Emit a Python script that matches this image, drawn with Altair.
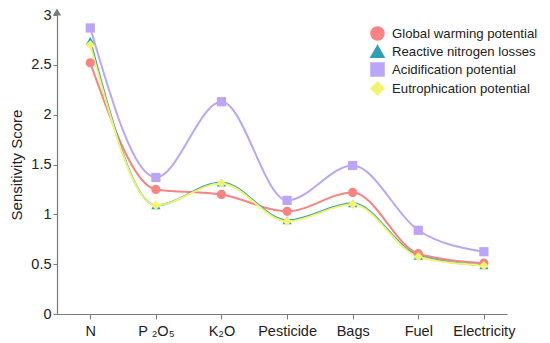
import altair as alt
import pandas as pd

categories = ["N", "P ₂O₅", "K₂O", "Pesticide", "Bags", "Fuel", "Electricity"]
series_names = ["Global warming potential", "Reactive nitrogen losses",
                "Acidification potential", "Eutrophication potential"]
gwp = [2.52, 1.25, 1.20, 1.03, 1.22, 0.605, 0.51]
rnl = [2.74, 1.09, 1.32, 0.94, 1.11, 0.585, 0.49]
acid = [2.87, 1.37, 2.13, 1.14, 1.49, 0.84, 0.625]
eutro = [2.70, 1.09, 1.31, 0.93, 1.10, 0.575, 0.485]
colors = ["#F98282", "#2BA0B7", "#BBA5F6", "#F3F36E"]
shapes = ["circle", "triangle-up", "square", "diamond"]

rows = []
for name, vals in zip(series_names, [gwp, rnl, acid, eutro]):
    for i, (c, v) in enumerate(zip(categories, vals)):
        rows.append({"Category": c, "Series": name, "Score": v, "order": i})
df = pd.DataFrame(rows)

font = "Liberation Sans"
axis_col = "#7a7a7a"

x = alt.X("Category:N", sort=categories, title=None,
          scale=alt.Scale(type="point", padding=0.43, align=0.59),
          axis=alt.Axis(labelAngle=0, labelFont=font, labelFontSize=14.5,
                        labelColor="#222222", domainColor=axis_col,
                        tickColor=axis_col, tickSize=5, labelPadding=5,
                        grid=False))
y = alt.Y("Score:Q", title="Sensitivity Score",
          scale=alt.Scale(domain=[0, 3], nice=False),
          axis=alt.Axis(values=[0, 0.5, 1, 1.5, 2, 2.5, 3],
                        labelExpr="datum.value", labelFont=font,
                        labelFontSize=14.5, labelColor="#222222",
                        titleFont=font, titleFontSize=15,
                        titleFontWeight="normal", titleColor="#222222",
                        domainColor=axis_col, tickColor=axis_col,
                        tickSize=4, labelPadding=2, titlePadding=6,
                        grid=False))

color = alt.Color("Series:N", scale=alt.Scale(domain=series_names, range=colors),
                  title=None)
shape = alt.Shape("Series:N", scale=alt.Scale(domain=series_names, range=shapes),
                  title=None)

lines = alt.Chart(df).mark_line(interpolate="monotone", strokeWidth=2).encode(
    x=x, y=y, color=color, order="order:Q",
)

points = alt.Chart(df).mark_point(filled=True, size=85, opacity=1).encode(
    x=x, y=y, color=color, shape=shape,
)

arrow = alt.Chart(pd.DataFrame({"a": [0]})).mark_point(
    shape="triangle-up", filled=True, color="#7a7a7a", size=70, opacity=1,
    yOffset=-3).encode(x=alt.value(0), y=alt.datum(3))

chart = alt.layer(lines, points, arrow).properties(
    width=450, height=299, autosize="none",
    padding={"left": 49, "top": 7, "right": 35, "bottom": 26},
).configure_view(stroke=None).configure_axis(
    domainWidth=1.2
).configure_legend(
    orient="none", legendX=313, legendY=11, padding=0,
    labelFont=font, labelFontSize=13.2, labelColor="#222222",
    symbolSize=170, symbolOpacity=1, rowPadding=-2, labelOffset=7,
)

chart.save("out.html", embed_options={"renderer": "svg", "actions": False})
